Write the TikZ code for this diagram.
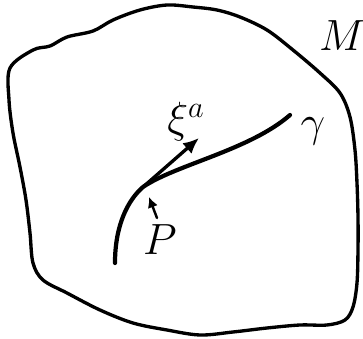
\documentclass[tikz,border=0pt]{standalone}
\usepackage{amsmath}
\usepackage{amssymb}
\usetikzlibrary{arrows.meta}

\begin{document}
\begin{tikzpicture}[
    >=Latex,
    x=0.02cm, y=-0.02cm,
    line cap=round, line join=round,
    edge/.style={line width=1.9pt},
    curve/.style={line width=2.4pt},
    lbl/.style={inner sep=0pt, font=\fontsize{23}{26}\selectfont}
]

\useasboundingbox (0,0) rectangle (363,339);

%---------------------------------
% Manifold outline
%---------------------------------
\draw[edge] plot[smooth cycle, tension=0.55] coordinates {
    (10,68) (33,50) (50,46) (67,37) (93,31) (113,20) (140,10)
    (167,5) (193,7) (217,10) (240,17) (267,30) (293,50) (320,73)
    (340,93) (350,117) (355,150) (357,183) (358,217) (358,250)
    (357,283) (353,307) (345,320) (327,325) (300,325) (267,328)
    (233,332) (200,335) (167,330) (133,323) (100,310) (67,293)
    (43,280) (33,263) (30,233) (26,200) (20,167) (13,133) (9,100)
};

%---------------------------------
% Curve and point
%---------------------------------
\coordinate (c0) at (115,263);
\coordinate (p)  at (143,187);
\coordinate (c1) at (290,115);
\coordinate (tip) at (199,138);

\draw[curve] (c0) .. controls (115,225) and (128,200) .. (p)
             .. controls (175,165) and (250,150) .. (c1);

% tangent vector
\draw[edge, -{Latex[length=9pt, width=8pt]}] (p) -- (tip);

%---------------------------------
% Labels
%---------------------------------
\node[lbl] (m)   at (342,36)  {$M$};
\node[lbl] (gam) at (313,131) {$\gamma$};
\node[lbl] (xi)  at (186,122) {$\xi^a$};
\node[lbl] (lp)  at (160,240) {$P$};

\coordinate (ap) at (157,218);
\coordinate (aq) at (149,197);
\draw[line width=1.4pt, -{Latex[length=6pt, width=6pt]}] (ap) -- (aq);

\end{tikzpicture}
\end{document}
